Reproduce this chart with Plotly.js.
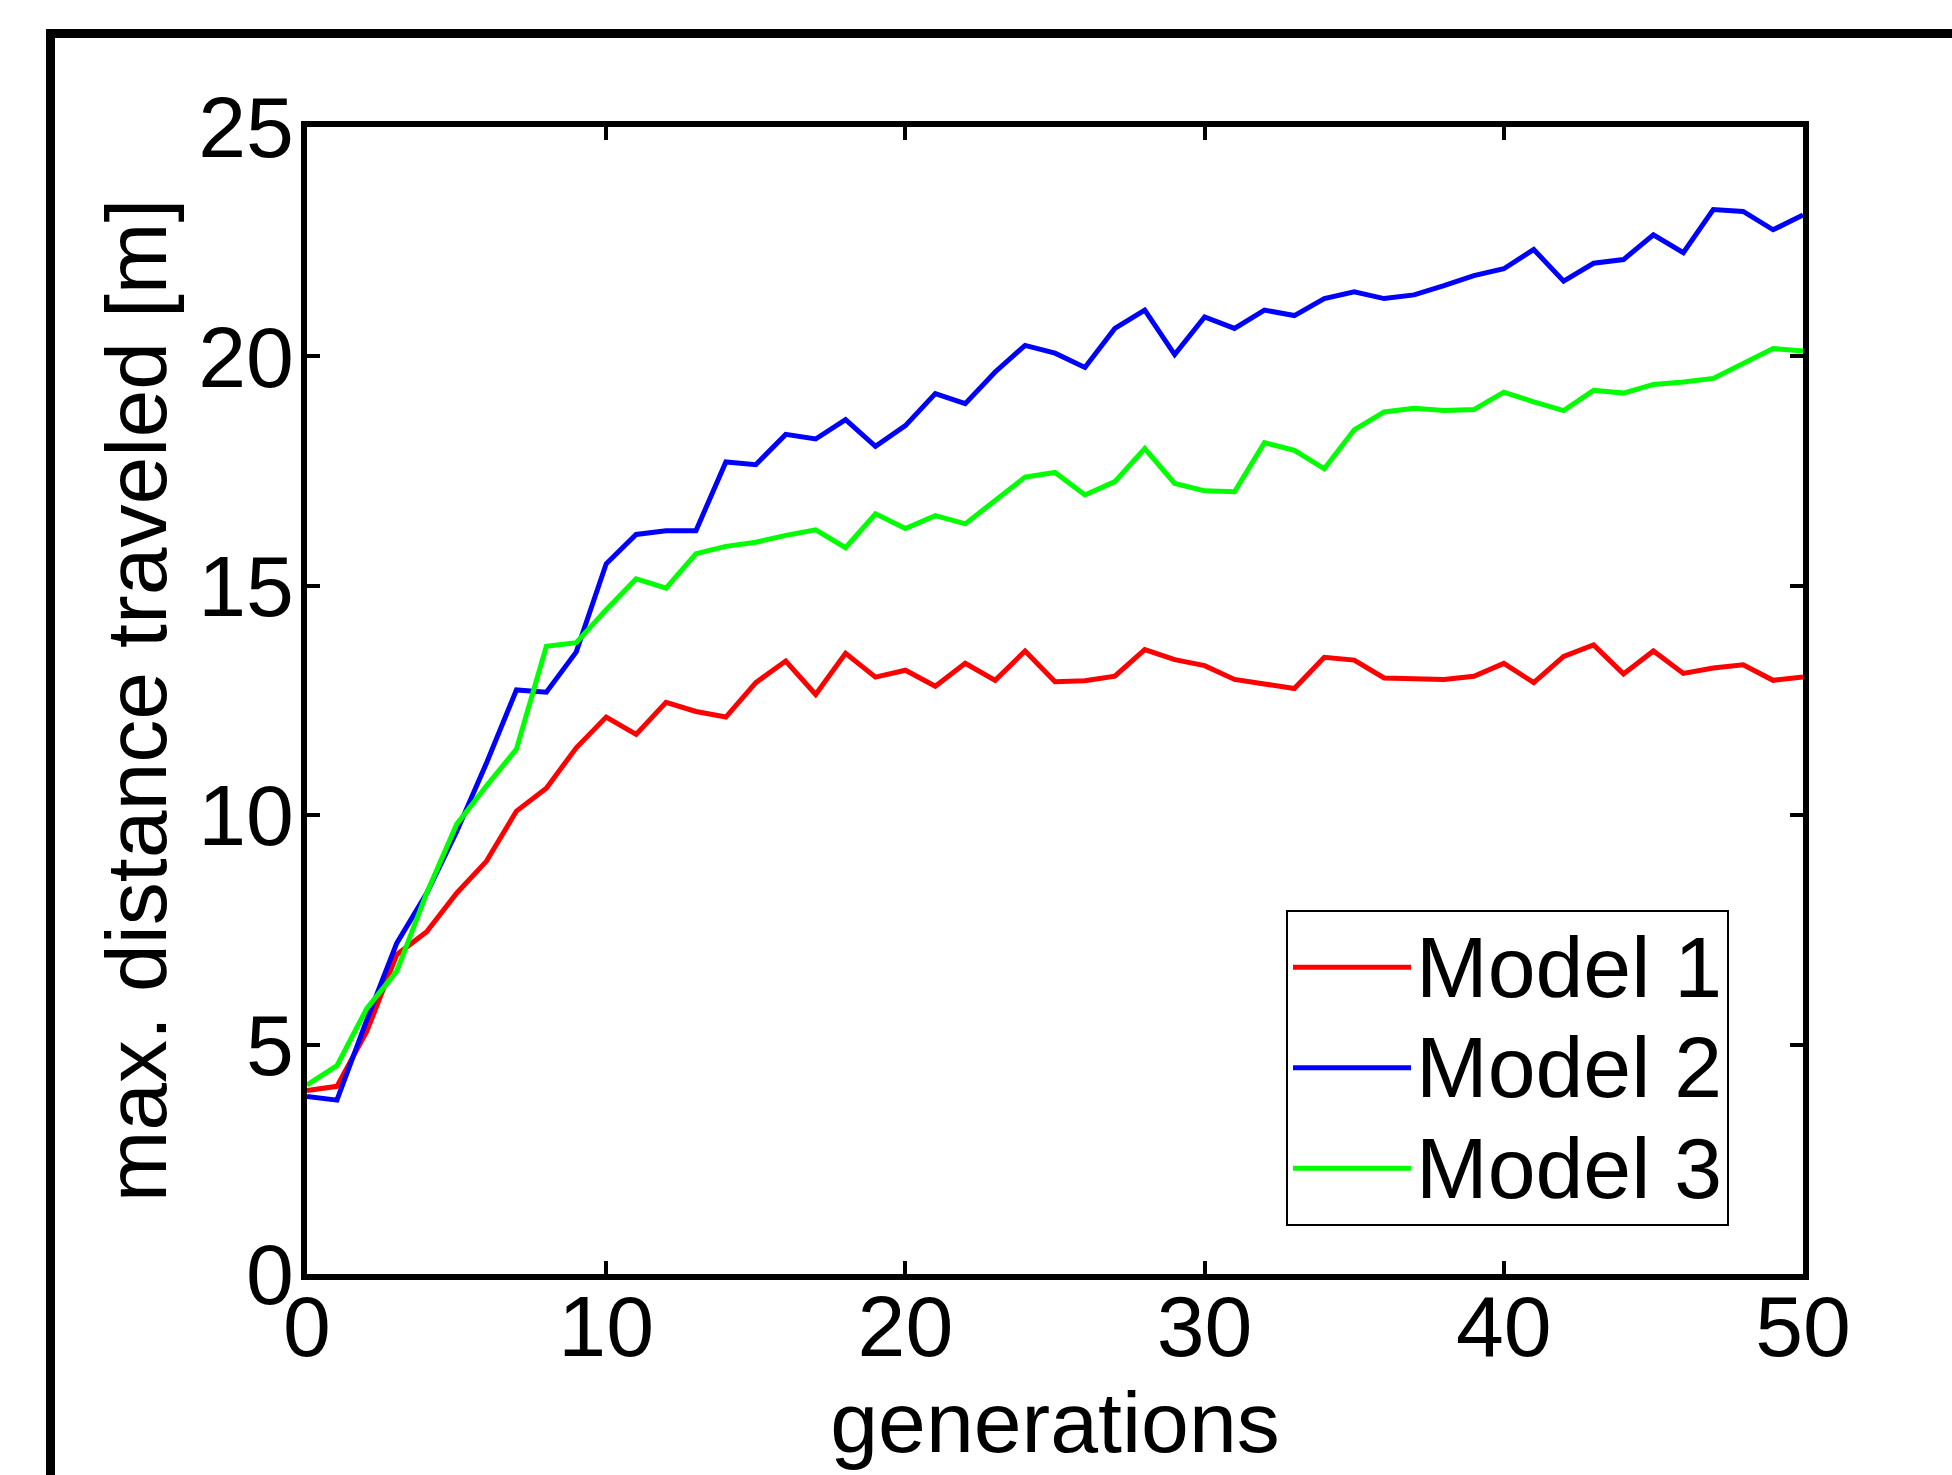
<!DOCTYPE html>
<html>
<head>
<meta charset="utf-8">
<script src="https://cdn.plot.ly/plotly-3.0.1.min.js"></script>
<style>
  html, body { margin: 0; padding: 0; background: #ffffff; }
  #chart { width: 1952px; height: 1475px; }
</style>
</head>
<body>
<div id="chart"></div>
<script>
const generations = [0,1,2,3,4,5,6,7,8,9,10,11,12,13,14,15,16,17,18,19,20,21,22,23,24,25,26,27,28,29,30,31,32,33,34,35,36,37,38,39,40,41,42,43,44,45,46,47,48,49,50];

const model1 = [4.00, 4.09, 5.29, 6.96, 7.46, 8.30, 9.00, 10.09, 10.59, 11.47,
  12.14, 11.76, 12.46, 12.26, 12.14, 12.89, 13.36, 12.63, 13.53, 13.01,
  13.16, 12.81, 13.31, 12.94, 13.58, 12.91, 12.93, 13.03, 13.61, 13.39,
  13.26, 12.96, 12.86, 12.76, 13.44, 13.38, 12.99, 12.98, 12.96, 13.03,
  13.31, 12.89, 13.46, 13.71, 13.08, 13.58, 13.09, 13.21, 13.28, 12.94, 13.01];

const model2 = [3.87, 3.79, 5.54, 7.21, 8.30, 9.64, 11.14, 12.73, 12.68, 13.56,
  15.48, 16.12, 16.20, 16.20, 17.70, 17.64, 18.30, 18.20, 18.62, 18.04,
  18.49, 19.19, 18.97, 19.66, 20.24, 20.07, 19.76, 20.61, 21.01, 20.04,
  20.86, 20.61, 21.01, 20.89, 21.26, 21.41, 21.26, 21.34, 21.54, 21.76,
  21.91, 22.33, 21.64, 22.03, 22.11, 22.65, 22.26, 23.20, 23.16, 22.76, 23.08];

const model3 = [4.12, 4.54, 5.79, 6.60, 8.30, 9.80, 10.64, 11.44, 13.68, 13.76,
  14.48, 15.15, 14.95, 15.70, 15.86, 15.95, 16.10, 16.22, 15.83, 16.57,
  16.25, 16.53, 16.35, 16.85, 17.37, 17.47, 16.98, 17.27, 17.99, 17.23,
  17.07, 17.05, 18.12, 17.95, 17.55, 18.40, 18.79, 18.87, 18.82, 18.84,
  19.22, 19.01, 18.82, 19.26, 19.20, 19.39, 19.44, 19.52, 19.86, 20.17, 20.12];

const seriesNames = ["Model 1", "Model 2", "Model 3"];
const seriesColors = ["#ff0000", "#0000ff", "#00ff00"];
const xTicks = [0, 10, 20, 30, 40, 50];
const yTicks = [0, 5, 10, 15, 20, 25];

const FONT = "Liberation Sans, Arial, Helvetica, sans-serif";

const allY = [model1, model2, model3];
const traces = allY.map((ys, i) => ({
  type: "scatter",
  mode: "lines",
  x: generations,
  y: ys,
  name: '<span style="font-size:86px">' + seriesNames[i] + '</span>',
  line: { color: seriesColors[i], width: 5 }
}));

const W = 1952, H = 1475;
const M = { l: 307, r: 149, t: 127, b: 201 };
const pw = W - M.l - M.r, ph = H - M.t - M.b;
const px2x = (px) => (px - M.l) / pw;
const py2y = (py) => (H - M.b - py) / ph;

const axisCommon = {
  showline: true, linecolor: "#000", linewidth: 6, mirror: "ticks",
  ticks: "inside", ticklen: 13, tickwidth: 4, tickcolor: "#000",
  showgrid: false, zeroline: false,
  tickfont: { family: FONT, size: 86, color: "#000" }
};

const layout = {
  width: W, height: H,
  margin: M,
  paper_bgcolor: "#fff", plot_bgcolor: "#fff",
  showlegend: true,
  font: { family: FONT, color: "#000" },
  xaxis: Object.assign({}, axisCommon, {
    range: [0, 50], tickmode: "array", tickvals: xTicks, ticktext: xTicks.map(String),
    ticklabelstandoff: -27,
    title: { text: "generations", font: { family: FONT, size: 86, color: "#000" }, standoff: 15 }
  }),
  yaxis: Object.assign({}, axisCommon, {
    range: [0, 25], tickmode: "array", tickvals: yTicks, ticktext: yTicks.map(String),
    ticklabelstandoff: -10,
    title: { text: "max. distance traveled [m]", font: { family: FONT, size: 86, color: "#000" }, standoff: 5 }
  }),
  legend: {
    x: px2x(1286), y: py2y(910), xanchor: "left", yanchor: "top",
    bgcolor: "#fff", bordercolor: "#000", borderwidth: 2,
    font: { family: FONT, size: 75, color: "#000" },
    itemwidth: 118, tracegroupgap: 0
  },
  shapes: [{
    type: "rect", xref: "paper", yref: "paper",
    x0: px2x(50.5), x1: px2x(2100), y0: py2y(1600), y1: py2y(33.5),
    line: { color: "#000", width: 9 }, fillcolor: "rgba(0,0,0,0)", layer: "above"
  }]
};

Plotly.newPlot("chart", traces, layout, { displayModeBar: false, staticPlot: true });
</script>
</body>
</html>
